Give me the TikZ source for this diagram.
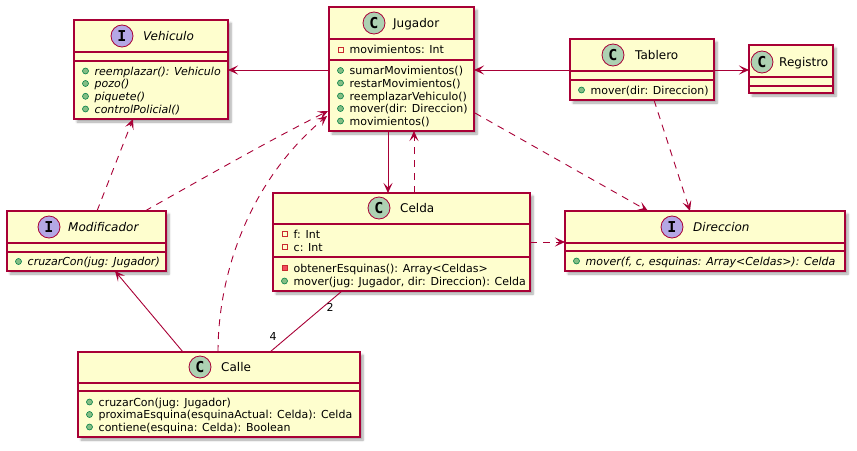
\documentclass[tikz,border=0pt]{standalone}
\usepackage{fontspec}
\setmainfont{DejaVu Sans}
\newfontfamily\iconfont{DejaVu Sans Mono}
\usetikzlibrary{arrows.meta,calc,shadows.blur}
\definecolor{umlred}{HTML}{A80036}
\definecolor{umlfill}{HTML}{FEFECE}
\definecolor{clsicon}{HTML}{ADD1B2}
\definecolor{ificon}{HTML}{B4A7E5}
\definecolor{pubfill}{HTML}{84BE84}
\definecolor{pubdraw}{HTML}{038048}
\definecolor{privdraw}{HTML}{C82930}
\definecolor{privfill}{HTML}{F24D5C}
\tikzset{
  cls/.style={draw=umlred, fill=umlfill, line width=1.2pt, inner sep=0pt, outer sep=0pt,
    anchor=north west, blur shadow={shadow xshift=3pt, shadow yshift=-3pt, shadow blur steps=6, shadow opacity=35}},
  sepline/.style={draw=umlred, line width=1.2pt},
  icon/.style={circle, draw=umlred, line width=0.8pt, minimum size=22pt, inner sep=0pt,
    font=\iconfont\bfseries\fontsize{15}{15}\selectfont},
  ttl/.style={anchor=base west, inner sep=0pt, font=\fontsize{12}{14}\selectfont},
  mem/.style={anchor=base west, inner sep=0pt, font=\fontsize{11}{13}\selectfont},
  lbl/.style={inner sep=0pt, font=\fontsize{11}{13}\selectfont},
  pubicon/.style={draw=pubdraw, fill=pubfill, line width=0.6pt},
  privicon/.style={draw=privdraw, line width=0.8pt},
  privmicon/.style={draw=privdraw, fill=privfill, line width=0.8pt},
  utip/.style={-{Stealth[length=10pt,width=9pt,inset=4.5pt]}},
  arr/.style={draw=umlred, line width=0.9pt, utip},
  darr/.style={draw=umlred, line width=0.9pt, dash pattern=on 7pt off 6pt, utip},
  plain/.style={draw=umlred, line width=0.9pt},
}
\newcommand\mpub[3]{\draw[pubicon] (#1+11.5,#2) circle[radius=3];
  \node[mem] at (#1+20.5,#2+4) {#3};}
\newcommand\mpriv[3]{\draw[privicon] (#1+9,#2-2.5) rectangle (#1+14,#2+2.5);
  \node[mem] at (#1+20.5,#2+4) {#3};}
\newcommand\mprivm[3]{\draw[privmicon] (#1+9,#2-2.5) rectangle (#1+14,#2+2.5);
  \node[mem] at (#1+20.5,#2+4) {#3};}
\begin{document}
\begin{tikzpicture}[x=1pt,y=-1pt]
\useasboundingbox (0,0) rectangle (857,450);

% ---------- Vehiculo ----------
\node[cls, minimum width=154pt, minimum height=99pt] (veh) at (74,20) {};
\draw[sepline] (74,52) -- (228,52);
\draw[sepline] (74,61) -- (228,61);
\node[icon, fill=ificon] (vehi) at (122,36) {I};
\node[ttl] (veht) at (143,40.5) {\itshape Vehiculo};
\mpub{74}{71}{\itshape reemplazar(): Vehiculo}
\mpub{74}{83.5}{\itshape pozo()}
\mpub{74}{96.3}{\itshape piquete()}
\mpub{74}{109}{\itshape controlPolicial()}

% ---------- Jugador ----------
\node[cls, minimum width=145pt, minimum height=124pt] (jug) at (329,7) {};
\draw[sepline] (329,39) -- (474,39);
\draw[sepline] (329,60) -- (474,60);
\node[icon, fill=clsicon] (jugi) at (374,23) {C};
\node[ttl] (jugt) at (393,27.5) {Jugador};
\mpriv{329}{49.5}{movimientos: Int}
\mpub{329}{70.5}{sumarMovimientos()}
\mpub{329}{83}{restarMovimientos()}
\mpub{329}{96}{reemplazarVehiculo()}
\mpub{329}{108.5}{mover(dir: Direccion)}
\mpub{329}{121}{movimientos()}

% ---------- Tablero ----------
\node[cls, minimum width=144pt, minimum height=61pt] (tab) at (570,39) {};
\draw[sepline] (570,71) -- (714,71);
\draw[sepline] (570,80) -- (714,80);
\node[icon, fill=clsicon] (tabi) at (613,55) {C};
\node[ttl] (tabt) at (635,59.5) {Tablero};
\mpub{570}{90}{mover(dir: Direccion)}

% ---------- Registro ----------
\node[cls, minimum width=84pt, minimum height=48pt] (reg) at (749,45) {};
\draw[sepline] (749,77) -- (833,77);
\draw[sepline] (749,86) -- (833,86);
\node[icon, fill=clsicon] (regi) at (762,62) {C};
\node[ttl] (regt) at (779,66.5) {Registro};

% ---------- Direccion ----------
\node[cls, minimum width=280pt, minimum height=60pt] (dir) at (565,211) {};
\draw[sepline] (565,243) -- (845,243);
\draw[sepline] (565,251) -- (845,251);
\node[icon, fill=ificon] (diri) at (672,227) {I};
\node[ttl] (dirt) at (693,231.5) {\itshape Direccion};
\mpub{565}{261}{\itshape mover(f, c, esquinas: Array<Celdas>): Celda}

% ---------- Celda ----------
\node[cls, minimum width=257pt, minimum height=98pt] (cel) at (273,193) {};
\draw[sepline] (273,224) -- (530,224);
\draw[sepline] (273,257) -- (530,257);
\node[icon, fill=clsicon] (celi) at (379,208) {C};
\node[ttl] (celt) at (400,212.5) {Celda};
\mpriv{273}{234}{f: Int}
\mpriv{273}{247}{c: Int}
\mprivm{273}{268}{obtenerEsquinas(): Array<Celdas>}
\mpub{273}{281}{mover(jug: Jugador, dir: Direccion): Celda}

% ---------- Modificador ----------
\node[cls, minimum width=159pt, minimum height=60pt] (mod) at (7,211) {};
\draw[sepline] (7,243) -- (166,243);
\draw[sepline] (7,252) -- (166,252);
\node[icon, fill=ificon] (modi) at (49,227) {I};
\node[ttl] (modt) at (68,231.5) {\itshape Modificador};
\mpub{7}{261.5}{\itshape cruzarCon(jug: Jugador)}

% ---------- Calle ----------
\node[cls, minimum width=282pt, minimum height=85pt] (cal) at (78,352) {};
\draw[sepline] (78,383) -- (360,383);
\draw[sepline] (78,391) -- (360,391);
\node[icon, fill=clsicon] (cali) at (200,367) {C};
\node[ttl] (calt) at (221,371.5) {Calle};
\mpub{78}{402}{cruzarCon(jug: Jugador)}
\mpub{78}{414.5}{proximaEsquina(esquinaActual: Celda): Celda}
\mpub{78}{427}{contiene(esquina: Celda): Boolean}

% ---------- connectors ----------
\draw[arr] ($(jug.north west)+(0,63)$) coordinate (j1) -- (j1 -| veh.east);
\draw[arr] ($(tab.north west)+(0,31)$) coordinate (t1) -- (t1 -| jug.east);
\draw[arr] ($(tab.north east)+(0,31)$) coordinate (t2) -- (t2 -| reg.west);
\draw[arr] ($(jug.south west)+(59,0)$) coordinate (j2) -- (j2 |- cel.north);
\draw[darr] ($(cel.north west)+(141,0)$) coordinate (c1) -- (c1 |- jug.south);
\draw[darr] ($(jug.north east)+(1,106)$) -- ($(dir.north west)+(83,0)$);
\draw[darr] ($(tab.south west)+(84,0)$) -- ($(dir.north west)+(125,0)$);
\draw[darr] ($(cel.north east)+(0,49)$) coordinate (c2) -- (c2 -| dir.west);
\draw[darr] ($(mod.north west)+(90,0)$) -- ($(veh.south west)+(59,0)$);
\draw[darr] ($(mod.north west)+(138,0)$) .. controls (200,180) and (270,140) .. ($(jug.north west)+(-1,104)$);
\draw[darr] ($(cal.north west)+(140,0)$) .. controls (218,280) and (245,185) .. ($(jug.north west)+(-2,109)$);
\draw[arr] ($(cal.north west)+(105,0)$) -- ($(mod.south west)+(108,0)$);
\draw[plain] ($(cel.south west)+(69,0)$) -- ($(cal.north west)+(192,0)$);
\node[lbl] (m2) at (330,307) {2};
\node[lbl] (m4) at (273,336) {4};
\end{tikzpicture}
\end{document}
